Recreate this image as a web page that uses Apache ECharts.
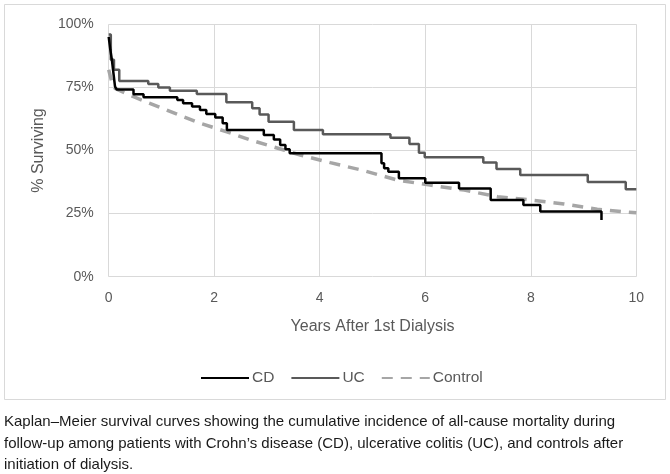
<!DOCTYPE html>
<html><head><meta charset="utf-8">
<script src="https://cdn.jsdelivr.net/npm/echarts@6/dist/echarts.min.js"></script>
<style>html,body{margin:0;padding:0;background:#fff}#c{width:670px;height:474px}</style>
</head><body><div id="c"></div>
<script>
// Kaplan–Meier data (years, % surviving)
var cdTime = [0, 0.03, 0.06, 0.09, 0.12, 0.15, 0.47, 0.66, 1.30, 1.41, 1.58, 1.73, 1.85, 2.02, 2.16, 2.24, 2.94, 3.13, 3.25, 3.35, 3.43, 5.17, 5.22, 5.30, 5.50, 6.00, 6.64, 7.24, 7.86, 8.18, 9.34];
var cdSurv = [95, 90, 86, 80.6, 75.3, 74.2, 72.3, 71.1, 70.0, 68.7, 67.4, 66.0, 64.5, 63.1, 60.8, 58.1, 56.1, 54.4, 52.2, 50.5, 48.9, 44.9, 43.0, 41.6, 39.0, 37.2, 34.9, 30.4, 28.4, 25.8, 22.5];
var ucTime = [0, 0.04, 0.10, 0.20, 0.75, 0.94, 1.16, 1.67, 2.23, 2.72, 2.86, 3.03, 3.51, 4.06, 5.34, 5.70, 5.88, 5.99, 7.10, 7.35, 7.80, 9.08, 9.80, 10];
var ucSurv = [96, 86, 82, 77.5, 76.3, 75.0, 73.7, 72.4, 69.1, 66.7, 64.3, 61.4, 58.1, 56.4, 55.1, 52.6, 49.1, 47.3, 45.2, 42.7, 40.3, 37.5, 34.6, 34.6];
var ctTime = [0, 0.06, 0.12, 0.47, 1.10, 1.73, 2.24, 2.68, 3.32, 3.63, 4.20, 4.84, 5.47, 6.09, 6.74, 7.37, 8.00, 8.63, 9.26, 10];
var ctSurv = [82, 77, 74.6, 71.3, 66.0, 60.8, 57.4, 54.2, 50.2, 48.2, 45.2, 42.0, 38.3, 36.3, 34.3, 31.7, 30.4, 28.8, 26.7, 25.3];
var xTicks = [0, 2, 4, 6, 8, 10];
var yTicks = [0, 25, 50, 75, 100];
var seriesNames = ['CD', 'UC', 'Control'];
var caption = [
  'Kaplan–Meier survival curves showing the cumulative incidence of all-cause mortality during',
  'follow-up among patients with Crohn’s disease (CD), ulcerative colitis (UC), and controls after',
  'initiation of dialysis.'
];

function pairs(t, s) { return t.map(function (v, i) { return [v, s[i]]; }); }
var FONT = 'Liberation Sans';
var chart = echarts.init(document.getElementById('c'), null, {renderer: 'canvas'});
chart.setOption({
  animation: false,
  backgroundColor: '#fff',
  grid: {left: 108.7, right: 33.7, top: 24.3, bottom: 197.3},
  xAxis: {
    type: 'value', min: xTicks[0], max: xTicks[xTicks.length - 1], interval: 2,
    name: 'Years After 1st Dialysis', nameLocation: 'middle', nameGap: 42,
    nameTextStyle: {fontFamily: FONT, fontSize: 16, color: '#595959'},
    axisLine: {show: false}, axisTick: {show: false},
    axisLabel: {fontFamily: FONT, fontSize: 14, color: '#595959', margin: 14},
    splitLine: {show: true, lineStyle: {color: '#d9d9d9', width: 1}}
  },
  yAxis: {
    type: 'value', min: yTicks[0], max: yTicks[yTicks.length - 1], interval: 25,
    name: '% Surviving', nameLocation: 'middle', nameGap: 60, nameRotate: 90,
    nameTextStyle: {fontFamily: FONT, fontSize: 16, color: '#595959'},
    axisLine: {show: false}, axisTick: {show: false},
    axisLabel: {fontFamily: FONT, fontSize: 14, color: '#595959', margin: 15, formatter: '{value}%'},
    splitLine: {show: true, lineStyle: {color: '#d9d9d9', width: 1}}
  },
  legend: {
    data: seriesNames, left: 195, top: 365, itemWidth: 48, itemHeight: 16, itemGap: 16,
    itemStyle: {opacity: 0},
    textStyle: {fontFamily: FONT, fontSize: 15.5, color: '#595959', padding: [0, 0, 0, -2]}
  },
  graphic: [
    {type: 'rect', shape: {x: 4.5, y: 4.5, width: 661, height: 395}, style: {fill: 'none', stroke: '#d9d9d9', lineWidth: 1}, silent: true, z: -1},
    {type: 'text', left: 4, top: 414, style: {text: caption[0], font: '15px "' + FONT + '"', fill: '#1a1a1a'}},
    {type: 'text', left: 4, top: 436, style: {text: caption[1], font: '15px "' + FONT + '"', fill: '#1a1a1a'}},
    {type: 'text', left: 4, top: 457, style: {text: caption[2], font: '15px "' + FONT + '"', fill: '#1a1a1a'}}
  ],
  series: [
    {name: seriesNames[0], type: 'line', step: 'end', symbol: 'none', data: pairs(cdTime, cdSurv),
     lineStyle: {color: '#000000', width: 2.5}, itemStyle: {color: '#000000'}, z: 4},
    {name: seriesNames[1], type: 'line', step: 'end', symbol: 'none', data: pairs(ucTime, ucSurv),
     lineStyle: {color: '#595959', width: 2.5}, itemStyle: {color: '#595959'}, z: 3},
    {name: seriesNames[2], type: 'line', symbol: 'none', data: pairs(ctTime, ctSurv),
     lineStyle: {color: '#a6a6a6', width: 3.5, type: [11, 8]}, itemStyle: {color: '#a6a6a6'}, z: 2}
  ]
});
</script></body></html>
